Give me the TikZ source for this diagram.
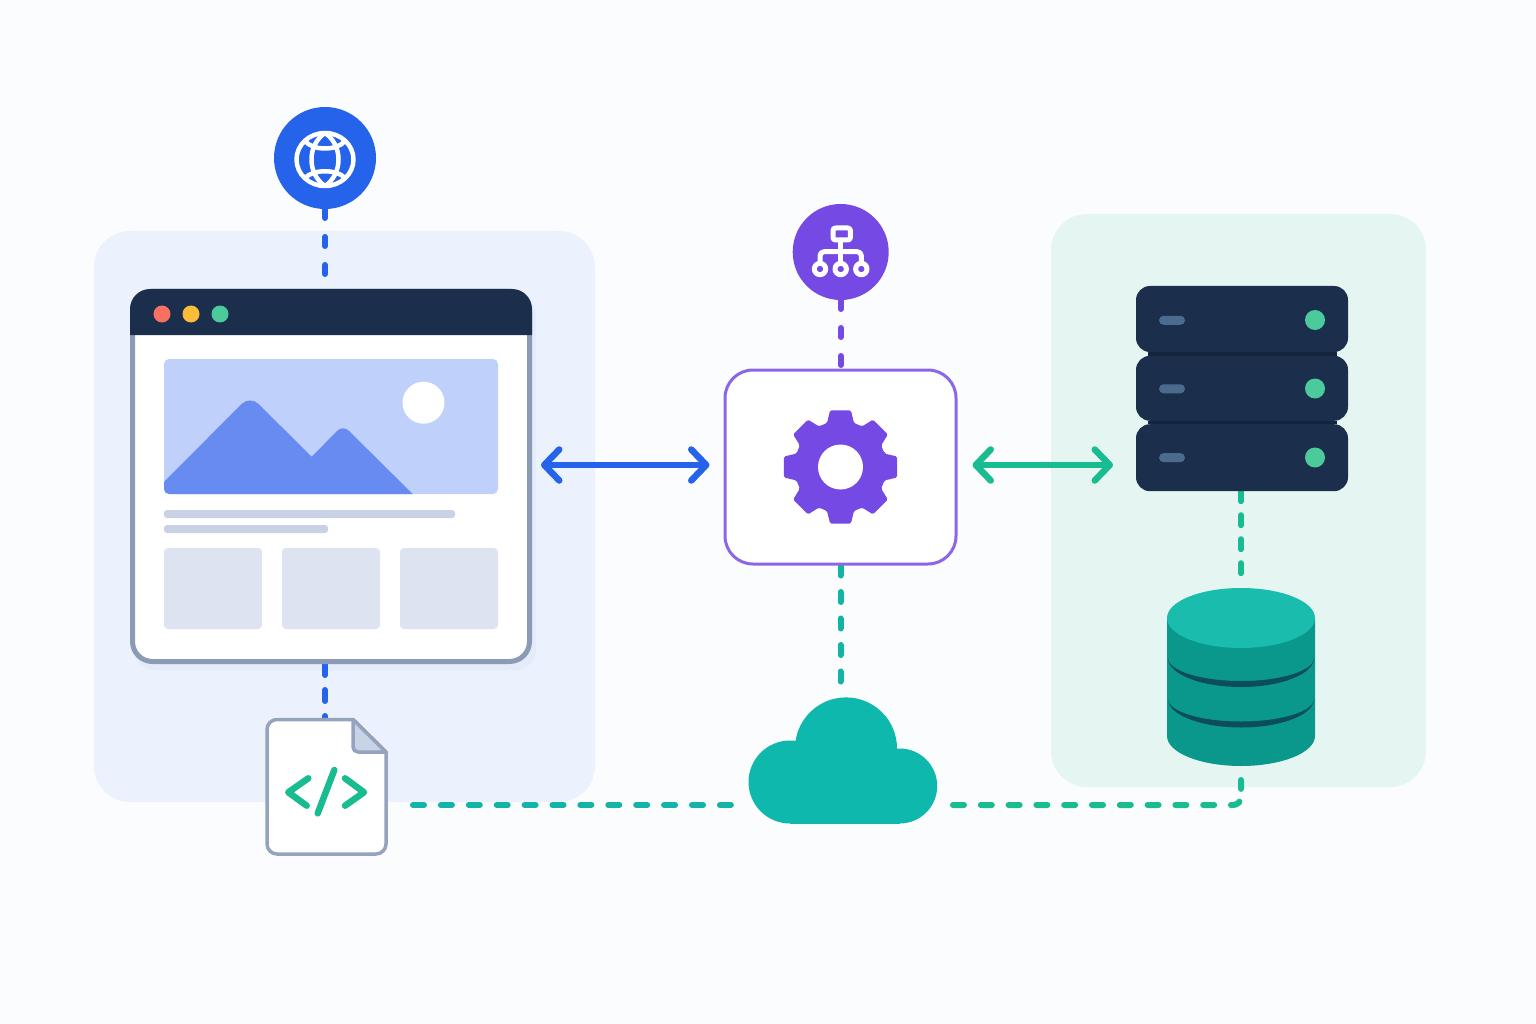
\documentclass[tikz,border=0pt]{standalone}
\usepackage{tikz}
\usetikzlibrary{arrows.meta,backgrounds}

\definecolor{pagebg}{HTML}{FBFCFE}
\definecolor{bluepanel}{HTML}{EBF2FE}
\definecolor{greenpanel}{HTML}{E5F6F2}
\definecolor{linkblue}{HTML}{2563EB}
\definecolor{linkgreen}{HTML}{19BC90}
\definecolor{linkteal}{HTML}{12B5A5}
\definecolor{coreviolet}{HTML}{7549E3}
\definecolor{coreline}{HTML}{8B67E8}
\definecolor{inkbar}{HTML}{1B2F4D}
\definecolor{inkgap}{HTML}{13243D}
\definecolor{frameline}{HTML}{8C9BB5}
\definecolor{fileline}{HTML}{95A3BF}
\definecolor{filefold}{HTML}{C9D3E6}
\definecolor{shadowblue}{HTML}{E4ECFB}
\definecolor{heroback}{HTML}{BFD1FA}
\definecolor{herohill}{HTML}{688BF2}
\definecolor{skeleton}{HTML}{C9D2E5}
\definecolor{cardfill}{HTML}{DDE3F1}
\definecolor{lightred}{HTML}{F87060}
\definecolor{lightyellow}{HTML}{FBBC3A}
\definecolor{ledgreen}{HTML}{4BCB9B}
\definecolor{pillblue}{HTML}{4A6A8E}
\definecolor{cloudteal}{HTML}{0FB8AD}
\definecolor{dbtop}{HTML}{1ABCAE}
\definecolor{dbbody}{HTML}{0B988C}
\definecolor{dbgroove}{HTML}{0B4D5A}

\tikzset{
  box/.style={inner sep=0pt,outer sep=0pt,minimum width=#1},
  panel/.style={box=1pt,rounded corners=36pt},
  badge/.style={circle,inner sep=0pt,outer sep=0pt,minimum size=#1},
  dot/.style={circle,inner sep=0pt,outer sep=0pt,minimum size=#1},
  rackunit/.style={box=212pt,minimum height=66pt,rounded corners=14pt,fill=inkbar},
  pill/.style={box=26pt,minimum height=9pt,rounded corners=4.5pt,fill=pillblue},
  card/.style={box=98pt,minimum height=81pt,rounded corners=4pt,fill=cardfill},
  bar/.style={box=#1,minimum height=8pt,rounded corners=3pt,fill=skeleton},
  dashlink/.style={line width=6pt,line cap=round},
  duplex/.style={line width=6.5pt,line cap=round,line join=round,
    {Straight Barb[length=15pt,width=31pt,round]}-{Straight Barb[length=15pt,width=31pt,round]}},
  iconline/.style={draw=white,line width=5pt,line cap=round,line join=round},
  globeline/.style={draw=white,line width=4.5pt,line cap=round,line join=round}
}

\begin{document}
\begin{tikzpicture}[x=1pt,y=-1pt]
\useasboundingbox (0,0) rectangle (1536,1024);

% client side
\node[badge=102pt,fill=linkblue] (globe) at (325,158) {};
\node[box=397pt,minimum height=370pt,rounded corners=20pt,draw=frameline,line width=5pt,fill=white,outer sep=2.5pt] (window) at (331,476.5) {};
\fill[inkbar] (130,335) [rounded corners=20pt] -- (130,289) -- (532,289) [sharp corners] -- (532,335) -- cycle;
\node[dot=17pt,fill=lightred] (redlight) at (162,314) {};
\node[dot=17pt,fill=lightyellow] (yellowlight) at (191,314) {};
\node[dot=17pt,fill=ledgreen] (greenlight) at (220,314) {};
\node[box=334pt,minimum height=135pt,rounded corners=5pt,fill=heroback] (hero) at (331,426.5) {};
\fill[herohill] (164,482) [rounded corners=12pt] -- (250,395.5) [sharp corners] -- (311.7,456.7) [rounded corners=8pt] -- (343,425) [sharp corners] -- (412.7,494) [rounded corners=5pt] -- (164,494) [sharp corners] -- cycle;
\node[dot=42pt,fill=white] (sun) at (423.5,402.7) {};
\node[bar=291pt] (line1) at (309.5,514) {};
\node[bar=164pt] (line2) at (246,529) {};
\node[card] (card1) at (213,588.5) {};
\node[card] (card2) at (331,588.5) {};
\node[card] (card3) at (449,588.5) {};

% source file
\node[box=119pt,minimum height=134.5pt] (file) at (326.5,786.75) {};
\draw[draw=fileline,fill=white,line width=3.5pt,line join=round] (300,719.5) [rounded corners=10pt] -- (267,719.5) -- (267,854) -- (386,854) [sharp corners] -- (386,752) -- (353,719.5) -- cycle;
\draw[draw=fileline,fill=filefold,line width=3.5pt,line join=round] (353,719.5) -- (386,752) [rounded corners=5pt] -- (353,752) [sharp corners] -- cycle;
\draw[linkgreen,line width=6.5pt,line cap=round,line join=round] (308.3,778.3) -- (288.3,792.3) -- (306.7,805.7);
\draw[linkgreen,line width=6.5pt,line cap=round,line join=round] (345,778.3) -- (364,792.3) -- (345,805.7);
\draw[linkgreen,line width=6.5pt,line cap=round] (334.3,770) -- (317.7,813.3);

% globe icon
\draw[globeline] (325,159.5) ellipse [x radius=28.5,y radius=26.5];
\draw[globeline] (325,133) .. controls (343,145) and (343,174) .. (325,186) .. controls (307,174) and (307,145) .. (325,133);
\draw[globeline] (305,141) .. controls (313,151) and (337,151) .. (345,141);
\draw[globeline] (305,178) .. controls (313,169) and (337,169) .. (345,178);

% middle tier
\node[badge=96pt,fill=coreviolet] (sitemap) at (840.7,252) {};
\node[box=231pt,minimum height=194pt,rounded corners=28pt,draw=coreline,line width=3pt,fill=white,outer sep=1.5pt] (core) at (840.5,467) {};
\begin{scope}[shift={(840.5,467)}]
\fill[coreviolet,rounded corners=1.5pt] (-17:46)
  \foreach \a in {0,45,...,315} { -- (\a-17:46) -- (\a-10.5:57.5) -- (\a+10.5:57.5) -- (\a+17:46) } -- cycle;
\fill[white] (0,0) circle [radius=22.5];
\end{scope}

% sitemap icon
\draw[iconline,rounded corners=2.5pt] (833,228) rectangle (850.4,240);
\draw[iconline] (840.7,240.3) -- (840.7,261);
\draw[iconline,rounded corners=4pt] (820,261) -- (820,251.7) -- (861.3,251.7) -- (861.3,261);
\draw[iconline] (820,269) circle [radius=5.7];
\draw[iconline] (840.7,269) circle [radius=5.7];
\draw[iconline] (861.3,269) circle [radius=5.7];

% cloud
\node[box=188pt,minimum height=127pt] (cloud) at (843,760.5) {};
\fill[cloudteal] (790,782) circle [radius=41.5] (846,748.4) circle [radius=51] (899.7,786) circle [radius=37.5];
\fill[cloudteal] (790,770) rectangle (900,823.5);

% server stack
\node[rackunit] (server1) at (1242,319) {};
\node[rackunit,minimum height=65pt] (server2) at (1242,388.3) {};
\node[rackunit,minimum height=67pt] (server3) at (1242,457.7) {};
\fill[inkgap] ([xshift=-94.5pt]server1.south) rectangle ([xshift=94.5pt]server2.north);
\fill[inkgap] ([xshift=-94.5pt]server2.south) rectangle ([xshift=94.5pt]server3.north);
\node[pill] (pill1) at (1172,320.3) {};
\node[pill] (pill2) at (1172,388.8) {};
\node[pill] (pill3) at (1172,457.7) {};
\node[dot=20pt,fill=ledgreen] (led1) at (1315,320) {};
\node[dot=20pt,fill=ledgreen] (led2) at (1315,388.5) {};
\node[dot=20pt,fill=ledgreen] (led3) at (1315,457.5) {};

% database
\node[box=148pt,minimum height=178pt] (db) at (1241,677) {};
\fill[dbbody] (1167,618) -- (1167,736) arc [start angle=180,end angle=0,x radius=74,y radius=30] -- (1315,618) -- cycle;
\fill[dbgroove] (1168,658) arc [start angle=180,end angle=0,x radius=73,y radius=29] arc [start angle=0,end angle=180,x radius=73,y radius=23] -- cycle;
\fill[dbgroove] (1168,699) arc [start angle=180,end angle=0,x radius=73,y radius=28.5] arc [start angle=0,end angle=180,x radius=73,y radius=22.5] -- cycle;
\fill[dbtop] (1241,618) ellipse [x radius=74,y radius=30];

\coordinate (bus) at (0,805);

\begin{scope}[on background layer]
\fill[pagebg] (0,0) rectangle (1536,1024);
\node[panel,minimum width=501pt,minimum height=571pt,fill=bluepanel] (webpanel) at (344.5,516.5) {};
\node[panel,minimum width=375pt,minimum height=573pt,fill=greenpanel] (datapanel) at (1238.5,500.5) {};
\fill[shadowblue,rounded corners=20pt] (134,295) rectangle (536,670);

% links
\draw[dashlink,linkblue,dash pattern=on 9pt off 19pt] (globe) -- (globe |- window.north);
\draw[dashlink,linkblue,dash pattern=on 11pt off 15pt] (globe |- window.south) -- (globe |- file.north);
\draw[dashlink,coreviolet,dash pattern=on 9pt off 19pt] (sitemap) -- (sitemap |- core.north);
\draw[dashlink,linkteal,dash pattern=on 10pt off 16.5pt] (core.south) -- (core.south |- cloud.north);
\draw[dashlink,linkgreen,dash pattern=on 10pt off 14pt,shorten >=12pt] (server3.south -| db.north) -- (db.north);
\draw[dashlink,linkteal,dash pattern=on 11pt off 16.9pt,shorten <=27pt,shorten >=9pt] (file.east |- bus) -- (cloud.west |- bus);
\draw[dashlink,linkgreen,rounded corners=8pt,shorten <=16pt,shorten >=14pt,
  dash pattern=on 11pt off 16.8pt on 11pt off 16.8pt on 11pt off 16.8pt on 11pt off 16.8pt on 11pt off 16.8pt on 11pt off 16.8pt on 11pt off 16.8pt on 11pt off 16.8pt on 11pt off 16.8pt on 11pt off 16.8pt on 9.5pt off 13.1pt on 9pt off 40pt]
  (cloud.east |- bus) -- (db.south |- bus) -- (db.south);
\draw[duplex,linkblue,shorten <=9pt,shorten >=14pt] ([yshift=2pt]window.east |- core.west) -- ([yshift=2pt]core.west);
\draw[duplex,linkgreen,shorten <=15pt,shorten >=23pt] ([yshift=2pt]core.east) -- ([yshift=2pt]server2.west |- core.east);
\end{scope}
\end{tikzpicture}
\end{document}
